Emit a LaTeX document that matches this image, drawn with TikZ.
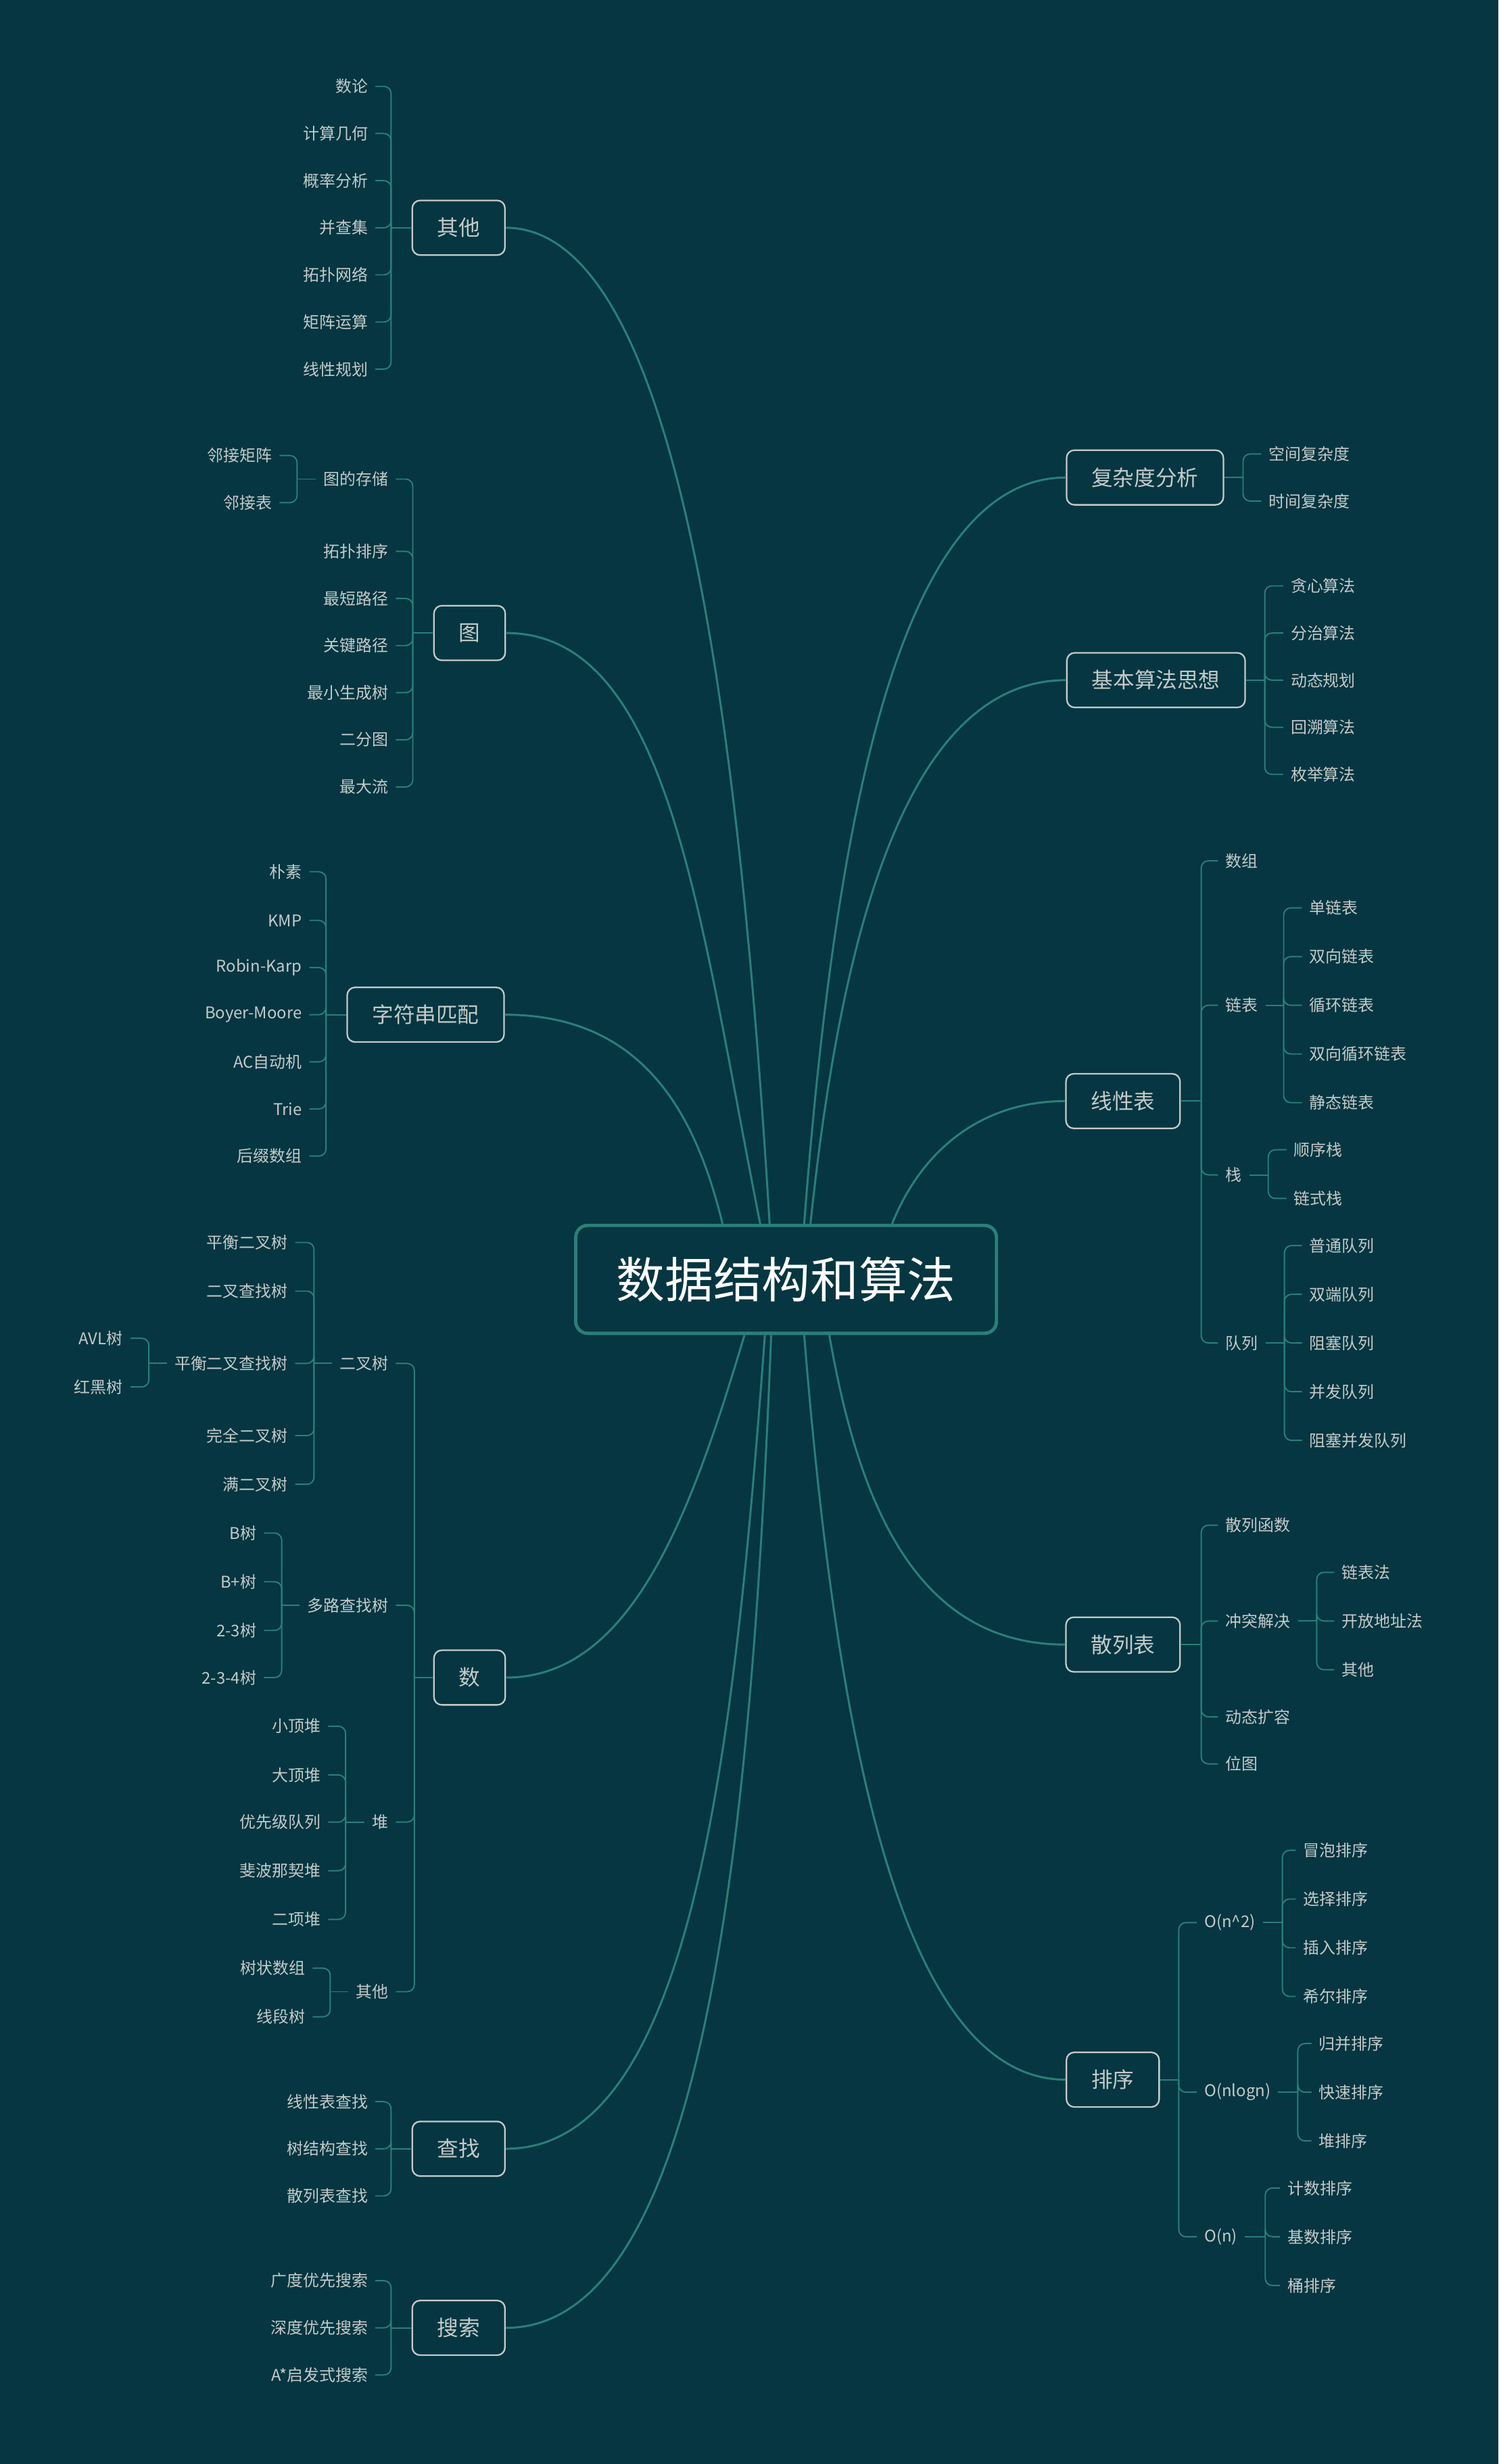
\documentclass[tikz,border=0pt]{standalone}
\usepackage{fontspec}
\setmainfont{Noto Sans CJK SC}
\usepackage{tikz}
\usetikzlibrary{calc, backgrounds}
\definecolor{bgteal}{HTML}{053641}
\definecolor{lineteal}{HTML}{2A7F79}
\definecolor{textgray}{HTML}{C4CACA}
\tikzstyle{hub} = [rectangle, rounded corners=5pt, draw=lineteal, line width=1.4pt, fill=bgteal, text=white, minimum width=177pt, minimum height=45.4pt, font=\fontsize{20.4}{24}\selectfont]
\tikzstyle{topic} = [rectangle, rounded corners=3.3pt, draw=textgray, line width=0.65pt, fill=bgteal, text=textgray, inner xsep=10.5pt, minimum height=23pt, font=\fontsize{9}{11}\selectfont]
\tikzstyle{leaf} = [text=textgray, inner xsep=3pt, inner ysep=1pt, font=\fontsize{6.8}{8}\selectfont]
\tikzstyle{lleaf} = [leaf, anchor=east]
\tikzstyle{rleaf} = [leaf, anchor=west]
\tikzstyle{trunk} = [draw=lineteal, line width=0.85pt]
\tikzstyle{twig} = [draw=lineteal, line width=0.55pt, rounded corners=3pt]

\begin{document}
\begin{tikzpicture}[x=0.023229cm, y=-0.023229cm, background rectangle/.style={fill=bgteal}, show background rectangle, inner frame sep=0pt]

    \useasboundingbox (0,0) rectangle (954,1568.7);

    \node (hub) [hub] at (500.5,814.5) {数据结构和算法};

    % left side
    \node (other) [topic] at (292,145) {其他};
    \node (o1) [lleaf] at (239,55) {数论};
    \node (o2) [lleaf] at (239,85) {计算几何};
    \node (o3) [lleaf] at (239,115) {概率分析};
    \node (o4) [lleaf] at (239,145) {并查集};
    \node (o5) [lleaf] at (239,175) {拓扑网络};
    \node (o6) [lleaf] at (239,205) {矩阵运算};
    \node (o7) [lleaf] at (239,235) {线性规划};

    \node (graph) [topic] at (299,403) {图};
    \node (g1) [lleaf] at (252,305) {图的存储};
    \node (g2) [lleaf] at (252,351) {拓扑排序};
    \node (g3) [lleaf] at (252,381) {最短路径};
    \node (g4) [lleaf] at (252,411) {关键路径};
    \node (g5) [lleaf] at (252,441) {最小生成树};
    \node (g6) [lleaf] at (252,471) {二分图};
    \node (g7) [lleaf] at (252,501) {最大流};
    \node (g11) [lleaf] at (178,290) {邻接矩阵};
    \node (g12) [lleaf] at (178,320) {邻接表};

    \node (match) [topic] at (271,646) {字符串匹配};
    \node (m1) [lleaf] at (197,555) {朴素};
    \node (m2) [lleaf] at (197,586) {KMP};
    \node (m3) [lleaf] at (197,616) {Robin-Karp};
    \node (m4) [lleaf] at (197,646) {Boyer-Moore};
    \node (m5) [lleaf] at (197,676) {AC自动机};
    \node (m6) [lleaf] at (197,706) {Trie};
    \node (m7) [lleaf] at (197,736) {后缀数组};

    \node (tree) [topic] at (299,1068) {数};
    \node (t1) [lleaf] at (252,868) {二叉树};
    \node (t2) [lleaf] at (252,1022) {多路查找树};
    \node (t3) [lleaf] at (252,1160) {堆};
    \node (t4) [lleaf] at (252,1268) {其他};
    \node (t11) [lleaf] at (188,791) {平衡二叉树};
    \node (t12) [lleaf] at (188,822) {二叉查找树};
    \node (t13) [lleaf] at (188,868) {平衡二叉查找树};
    \node (t14) [lleaf] at (188,914) {完全二叉树};
    \node (t15) [lleaf] at (188,945) {满二叉树};
    \node (t131) [lleaf] at (83,852) {AVL树};
    \node (t132) [lleaf] at (83,883) {红黑树};
    \node (t21) [lleaf] at (168,976) {B树};
    \node (t22) [lleaf] at (168,1007) {B+树};
    \node (t23) [lleaf] at (168,1038) {2-3树};
    \node (t24) [lleaf] at (168,1068) {2-3-4树};
    \node (t31) [lleaf] at (209,1099) {小顶堆};
    \node (t32) [lleaf] at (209,1130) {大顶堆};
    \node (t33) [lleaf] at (209,1160) {优先级队列};
    \node (t34) [lleaf] at (209,1191) {斐波那契堆};
    \node (t35) [lleaf] at (209,1222) {二项堆};
    \node (t41) [lleaf] at (199,1253) {树状数组};
    \node (t42) [lleaf] at (199,1284) {线段树};

    \node (search) [topic] at (292,1368) {查找};
    \node (s1) [lleaf] at (239,1338) {线性表查找};
    \node (s2) [lleaf] at (239,1368) {树结构查找};
    \node (s3) [lleaf] at (239,1398) {散列表查找};

    \node (explore) [topic] at (292,1482) {搜索};
    \node (e1) [lleaf] at (239,1452) {广度优先搜索};
    \node (e2) [lleaf] at (239,1482) {深度优先搜索};
    \node (e3) [lleaf] at (239,1512) {A*启发式搜索};

    % right side
    \node (cplx) [topic] at (729,304) {复杂度分析};
    \node (c1) [rleaf] at (803,289) {空间复杂度};
    \node (c2) [rleaf] at (803,319) {时间复杂度};

    \node (idea) [topic] at (736,433) {基本算法思想};
    \node (i1) [rleaf] at (817,373) {贪心算法};
    \node (i2) [rleaf] at (817,403) {分治算法};
    \node (i3) [rleaf] at (817,433) {动态规划};
    \node (i4) [rleaf] at (817,463) {回溯算法};
    \node (i5) [rleaf] at (817,493) {枚举算法};

    \node (linear) [topic] at (715,701) {线性表};
    \node (l1) [rleaf] at (775.5,548) {数组};
    \node (l2) [rleaf] at (775.5,640) {链表};
    \node (l3) [rleaf] at (775.5,748) {栈};
    \node (l4) [rleaf] at (775.5,855) {队列};
    \node (l21) [rleaf] at (829,578) {单链表};
    \node (l22) [rleaf] at (829,609) {双向链表};
    \node (l23) [rleaf] at (829,640) {循环链表};
    \node (l24) [rleaf] at (829,671) {双向循环链表};
    \node (l25) [rleaf] at (829,702) {静态链表};
    \node (l31) [rleaf] at (819,732) {顺序栈};
    \node (l32) [rleaf] at (819,763) {链式栈};
    \node (l41) [rleaf] at (829,793) {普通队列};
    \node (l42) [rleaf] at (829,824) {双端队列};
    \node (l43) [rleaf] at (829,855) {阻塞队列};
    \node (l44) [rleaf] at (829,886) {并发队列};
    \node (l45) [rleaf] at (829,917) {阻塞并发队列};

    \node (hash) [topic] at (715,1047) {散列表};
    \node (h1) [rleaf] at (775.5,971) {散列函数};
    \node (h2) [rleaf] at (775.5,1032) {冲突解决};
    \node (h3) [rleaf] at (775.5,1093) {动态扩容};
    \node (h4) [rleaf] at (775.5,1123) {位图};
    \node (h21) [rleaf] at (849.5,1001) {链表法};
    \node (h22) [rleaf] at (849.5,1032) {开放地址法};
    \node (h23) [rleaf] at (849.5,1063) {其他};

    \node (sort) [topic] at (708.5,1324) {排序};
    \node (q1) [rleaf] at (762,1224) {O(n\^{}2)};
    \node (q2) [rleaf] at (762,1332) {O(nlogn)};
    \node (q3) [rleaf] at (762,1424) {O(n)};
    \node (q11) [rleaf] at (825,1178) {冒泡排序};
    \node (q12) [rleaf] at (825,1209) {选择排序};
    \node (q13) [rleaf] at (825,1240) {插入排序};
    \node (q14) [rleaf] at (825,1271) {希尔排序};
    \node (q21) [rleaf] at (835,1301) {归并排序};
    \node (q22) [rleaf] at (835,1332) {快速排序};
    \node (q23) [rleaf] at (835,1363) {堆排序};
    \node (q31) [rleaf] at (815,1393) {计数排序};
    \node (q32) [rleaf] at (815,1424) {基数排序};
    \node (q33) [rleaf] at (815,1455) {桶排序};

    % spines
    \coordinate (otherS) at ($(other.west)+(-13,0)$);
    \coordinate (graphS) at ($(graph.west)+(-13,0)$);
    \coordinate (g1S) at ($(g1.west)+(-12,0)$);
    \coordinate (matchS) at ($(match.west)+(-13,0)$);
    \coordinate (treeS) at ($(tree.west)+(-12,0)$);
    \coordinate (t1S) at ($(t1.west)+(-11.5,0)$);
    \coordinate (t13S) at ($(t13.west)+(-11.5,0)$);
    \coordinate (t2S) at ($(t2.west)+(-11.5,0)$);
    \coordinate (t3S) at ($(t3.west)+(-12,0)$);
    \coordinate (t4S) at ($(t4.west)+(-11.5,0)$);
    \coordinate (searchS) at ($(search.west)+(-13,0)$);
    \coordinate (exploreS) at ($(explore.west)+(-13,0)$);
    \coordinate (cplxS) at ($(cplx.east)+(12,0)$);
    \coordinate (ideaS) at ($(idea.east)+(12,0)$);
    \coordinate (linearS) at ($(linear.east)+(13,0)$);
    \coordinate (l2S) at ($(l2.east)+(11.5,0)$);
    \coordinate (l3S) at ($(l3.east)+(12,0)$);
    \coordinate (l4S) at ($(l4.east)+(12,0)$);
    \coordinate (hashS) at ($(hash.east)+(13,0)$);
    \coordinate (h2S) at ($(h2.east)+(12,0)$);
    \coordinate (sortS) at ($(sort.east)+(12,0)$);
    \coordinate (q1S) at ($(q1.east)+(12.5,0)$);
    \coordinate (q2S) at ($(q2.east)+(12.5,0)$);
    \coordinate (q3S) at ($(q3.east)+(13,0)$);

    % stubs and brackets, left
    \foreach \p in {other, graph, g1, match, tree, t1, t13, t2, t3, t4, search, explore}
        \draw [twig] (\p.west) -- (\p S);
    \foreach \c in {o1, o2, o3, o4, o5, o6, o7} \draw [twig] (otherS) |- (\c.east);
    \foreach \c in {g1, g2, g3, g4, g5, g6, g7} \draw [twig] (graphS) |- (\c.east);
    \foreach \c in {g11, g12} \draw [twig] (g1S) |- (\c.east);
    \foreach \c in {m1, m2, m3, m4, m5, m6, m7} \draw [twig] (matchS) |- (\c.east);
    \foreach \c in {t1, t2, t3, t4} \draw [twig] (treeS) |- (\c.east);
    \foreach \c in {t11, t12, t13, t14, t15} \draw [twig] (t1S) |- (\c.east);
    \foreach \c in {t131, t132} \draw [twig] (t13S) |- (\c.east);
    \foreach \c in {t21, t22, t23, t24} \draw [twig] (t2S) |- (\c.east);
    \foreach \c in {t31, t32, t33, t34, t35} \draw [twig] (t3S) |- (\c.east);
    \foreach \c in {t41, t42} \draw [twig] (t4S) |- (\c.east);
    \foreach \c in {s1, s2, s3} \draw [twig] (searchS) |- (\c.east);
    \foreach \c in {e1, e2, e3} \draw [twig] (exploreS) |- (\c.east);

    % stubs and brackets, right
    \foreach \p in {cplx, idea, linear, l2, l3, l4, hash, h2, sort, q1, q2, q3}
        \draw [twig] (\p.east) -- (\p S);
    \foreach \c in {c1, c2} \draw [twig] (cplxS) |- (\c.west);
    \foreach \c in {i1, i2, i3, i4, i5} \draw [twig] (ideaS) |- (\c.west);
    \foreach \c in {l1, l2, l3, l4} \draw [twig] (linearS) |- (\c.west);
    \foreach \c in {l21, l22, l23, l24, l25} \draw [twig] (l2S) |- (\c.west);
    \foreach \c in {l31, l32} \draw [twig] (l3S) |- (\c.west);
    \foreach \c in {l41, l42, l43, l44, l45} \draw [twig] (l4S) |- (\c.west);
    \foreach \c in {h1, h2, h3, h4} \draw [twig] (hashS) |- (\c.west);
    \foreach \c in {h21, h22, h23} \draw [twig] (h2S) |- (\c.west);
    \foreach \c in {q1, q2, q3} \draw [twig] (sortS) |- (\c.west);
    \foreach \c in {q11, q12, q13, q14} \draw [twig] (q1S) |- (\c.west);
    \foreach \c in {q21, q22, q23} \draw [twig] (q2S) |- (\c.west);
    \foreach \c in {q31, q32, q33} \draw [twig] (q3S) |- (\c.west);

    % trunks to the hub
    \draw [trunk] (other.east) .. controls ($(other.east)+(108,0)$) and ($(hub.north)+(-30.5,-330)$) .. ($(hub.north)+(-10.5,0)$);
    \draw [trunk] (graph.east) .. controls ($(graph.east)+(104,0)$) and ($(hub.north)+(-55.5,-196)$) .. ($(hub.north)+(-16.5,0)$);
    \draw [trunk] (match.east) .. controls ($(match.east)+(88,0)$) and ($(hub.north)+(-57.5,-70)$) .. ($(hub.north)+(-40.5,0)$);
    \draw [trunk] (tree.east) .. controls ($(tree.east)+(80,0)$) and ($(hub.south)+(-60.5,114)$) .. ($(hub.south)+(-26.5,0)$);
    \draw [trunk] (search.east) .. controls ($(search.east)+(118,0)$) and ($(hub.south)+(-33.5,270)$) .. ($(hub.south)+(-13.5,0)$);
    \draw [trunk] (explore.east) .. controls ($(explore.east)+(125,0)$) and ($(hub.south)+(-22.5,329)$) .. ($(hub.south)+(-9.5,0)$);
    \draw [trunk] (cplx.west) .. controls ($(cplx.west)+(-108,0)$) and ($(hub.north)+(30.5,-248)$) .. ($(hub.north)+(11.5,0)$);
    \draw [trunk] (idea.west) .. controls ($(idea.west)+(-103,0)$) and ($(hub.north)+(34.5,-180)$) .. ($(hub.north)+(15.5,0)$);
    \draw [trunk] (linear.west) .. controls ($(linear.west)+(-55,0)$) and ($(hub.north)+(85.5,-45)$) .. ($(hub.north)+(67.5,0)$);
    \draw [trunk] (hash.west) .. controls ($(hash.west)+(-97,0)$) and ($(hub.south)+(45.5,103)$) .. ($(hub.south)+(27.5,0)$);
    \draw [trunk] (sort.west) .. controls ($(sort.west)+(-107,0)$) and ($(hub.south)+(31.5,247)$) .. ($(hub.south)+(11.5,0)$);

\end{tikzpicture}
\end{document}
